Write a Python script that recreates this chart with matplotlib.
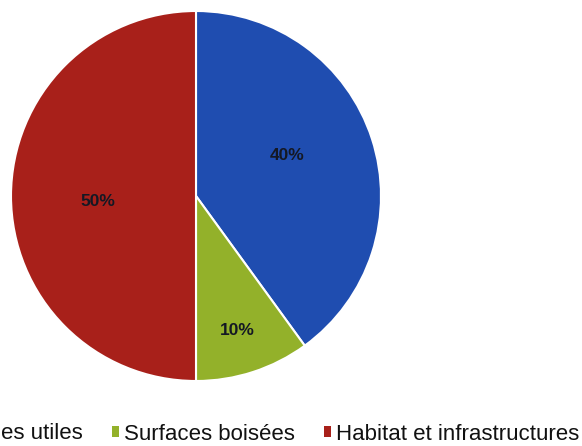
import matplotlib.pyplot as plt
import numpy as np
from matplotlib.patches import Patch

plt.rcParams['font.family'] = ['Liberation Sans', 'DejaVu Sans']

# data (slices clockwise from 12 o'clock)
labels = ["Surfaces agricoles utiles", "Surfaces boisées", "Habitat et infrastructures"]
shares = [40, 10, 50]
colors = ["#1f4db0", "#93b12a", "#a8201a"]
# where each % label sits: fraction of radius, angle shift from slice middle (deg)
label_dist = [0.54, 0.76, 0.53]
label_shift = [6, -1, 3]

fig = plt.figure(figsize=(5.82, 4.46), dpi=100)
W, H = 582, 446
cx, cy, rad = 196, 196, 185
ax = fig.add_axes([(cx - rad) / W, (H - cy - rad) / H, 2 * rad / W, 2 * rad / H])

wedges, _ = ax.pie(shares, colors=colors, startangle=90, counterclock=False,
                   radius=1, wedgeprops=dict(edgecolor='white', linewidth=1.5))
ax.set_xlim(-1, 1)
ax.set_ylim(-1, 1)
ax.set_aspect('equal')
ax.axis('off')

for w, v, d, s in zip(wedges, shares, label_dist, label_shift):
    ang = np.deg2rad((w.theta1 + w.theta2) / 2 + s)
    ax.text(d * np.cos(ang), d * np.sin(ang), f"{v}%", ha='center', va='center',
            fontsize=12.5, fontweight='bold', color='#141824')

handles = [Patch(facecolor=c, edgecolor='none') for c in colors]
fig.legend(handles, labels, ncol=3, loc='center right',
           bbox_to_anchor=(579 / W, 1 - 434 / H), frameon=False,
           fontsize=16, handlelength=0.35, handleheight=0.35,
           handletextpad=0.2, columnspacing=1.3, borderpad=0, borderaxespad=0,
           labelcolor='#111111')

fig.savefig("out.png", dpi=100)
